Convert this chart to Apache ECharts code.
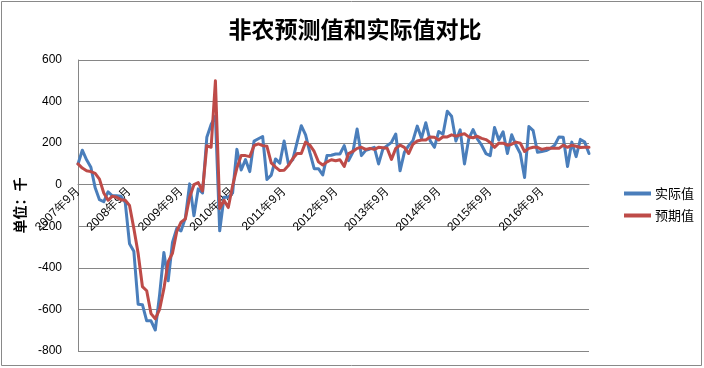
<!DOCTYPE html>
<html><head><meta charset="utf-8">
<script src="https://cdn.jsdelivr.net/npm/echarts@6/dist/echarts.min.js"></script>
<style>html,body{margin:0;padding:0;background:#fff}#c{width:704px;height:368px}</style>
</head><body><div id="c"></div>
<script>
const categories = [
"2007年9月","2007年10月","2007年11月","2007年12月",
"2008年1月","2008年2月","2008年3月","2008年4月","2008年5月","2008年6月","2008年7月","2008年8月","2008年9月","2008年10月","2008年11月","2008年12月",
"2009年1月","2009年2月","2009年3月","2009年4月","2009年5月","2009年6月","2009年7月","2009年8月","2009年9月","2009年10月","2009年11月","2009年12月",
"2010年1月","2010年2月","2010年3月","2010年4月","2010年5月","2010年6月","2010年7月","2010年8月","2010年9月","2010年10月","2010年11月","2010年12月",
"2011年1月","2011年2月","2011年3月","2011年4月","2011年5月","2011年6月","2011年7月","2011年8月","2011年9月","2011年10月","2011年11月","2011年12月",
"2012年1月","2012年2月","2012年3月","2012年4月","2012年5月","2012年6月","2012年7月","2012年8月","2012年9月","2012年10月","2012年11月","2012年12月",
"2013年1月","2013年2月","2013年3月","2013年4月","2013年5月","2013年6月","2013年7月","2013年8月","2013年9月","2013年10月","2013年11月","2013年12月",
"2014年1月","2014年2月","2014年3月","2014年4月","2014年5月","2014年6月","2014年7月","2014年8月","2014年9月","2014年10月","2014年11月","2014年12月",
"2015年1月","2015年2月","2015年3月","2015年4月","2015年5月","2015年6月","2015年7月","2015年8月","2015年9月","2015年10月","2015年11月","2015年12月",
"2016年1月","2016年2月","2016年3月","2016年4月","2016年5月","2016年6月","2016年7月","2016年8月","2016年9月","2016年10月","2016年11月","2016年12月",
"2017年1月","2017年2月","2017年3月","2017年4月","2017年5月","2017年6月","2017年7月","2017年8月"
];
const actualValues = [
100,166,120,84,
-15,-72,-82,-34,-53,-53,-56,-85,-284,-320,-575,-577,
-655,-655,-699,-530,-326,-462,-278,-210,-222,-160,4,-149,
-20,-40,228,290,330,-222,-60,-60,-40,170,71,121,
63,210,221,232,25,46,124,104,210,100,120,203,
284,240,154,77,77,47,141,142,148,148,188,116,
156,268,140,165,172,180,100,172,188,204,244,67,
156,188,212,282,224,298,212,180,256,243,353,329,
210,264,100,221,265,220,190,150,140,275,215,255,
150,240,190,150,35,280,260,156,160,164,175,190,
230,228,88,205,135,218,205,150
];
const forecastValues = [
100,80,67,63,
55,27,-40,-75,-55,-60,-72,-75,-100,-210,-330,-490,
-510,-620,-645,-600,-500,-370,-330,-225,-180,-165,-60,0,
10,-30,188,180,500,-115,-75,-110,-5,80,140,140,
135,188,196,188,185,105,85,68,70,92,125,150,
150,205,190,160,110,95,110,120,115,120,88,150,
160,175,180,170,175,170,180,178,175,122,175,190,
180,150,195,210,215,215,230,228,215,231,230,240,
234,240,245,230,226,233,223,217,203,180,200,200,
190,195,205,200,160,175,180,180,170,175,175,175,
175,190,180,190,185,179,180,180
];
const seriesNames = ["实际值","预期值"];
const yTicks = {min:-800, max:600, interval:200};

const gridTop = 60, gridBottom = 17, chartH = 368;
const plotH = chartH - gridTop - gridBottom;
const zeroOffset = -plotH * (0 - yTicks.min) / (yTicks.max - yTicks.min);

const chart = echarts.init(document.getElementById('c'), null, {renderer:'canvas'});
chart.setOption({
  animation:false,
  backgroundColor:'#fff',
  title:{text:'非农预测值和实际值对比', left:350, top:13, textAlign:'center',
    textStyle:{fontFamily:'Noto Sans CJK SC', fontSize:23, fontWeight:'bold', color:'#000'}},
  legend:{orient:'vertical', left:619, top:182, itemWidth:27, itemHeight:4, itemGap:9,
    icon:'rect', data:seriesNames,
    textStyle:{fontFamily:'Noto Sans CJK SC', fontSize:13, color:'#000', padding:[0,0,0,-1]}},
  grid:{left:78, right:115, top:gridTop, bottom:gridBottom, containLabel:false, outerBoundsMode:'none'},
  xAxis:{type:'category', data:categories, boundaryGap:false, offset:zeroOffset,
    axisLine:{onZero:false, lineStyle:{color:'#868686', width:1}},
    axisTick:{show:false},
    axisLabel:{interval:11, rotate:45, fontFamily:'Liberation Sans', fontSize:12, color:'#000', margin:4},
    splitLine:{show:false}},
  yAxis:{type:'value', min:yTicks.min, max:yTicks.max, interval:yTicks.interval,
    name:'单位：千', nameLocation:'middle', nameGap:47, nameRotate:90,
    nameTextStyle:{fontFamily:'Noto Sans CJK SC', fontSize:14, fontWeight:'bold', color:'#000'},
    axisLine:{show:true, lineStyle:{color:'#868686', width:1}},
    axisTick:{show:false},
    axisLabel:{fontFamily:'Liberation Sans', fontSize:12, color:'#000', margin:16},
    splitLine:{lineStyle:{color:'#868686', width:1}}},
  series:[
    {name:seriesNames[0], type:'line', data:actualValues, showSymbol:false, symbol:'none',
      lineStyle:{color:'#4A7EBB', width:3, join:'round', cap:'round'}, itemStyle:{color:'#4A7EBB'}},
    {name:seriesNames[1], type:'line', data:forecastValues, showSymbol:false, symbol:'none',
      lineStyle:{color:'#BE4B48', width:3, join:'round', cap:'round'}, itemStyle:{color:'#BE4B48'}}
  ],
  graphic:[{type:'rect', shape:{x:1.5, y:1.5, width:700, height:364}, silent:true,
    style:{fill:'none', stroke:'#898989', lineWidth:1}}]
});
</script></body></html>
